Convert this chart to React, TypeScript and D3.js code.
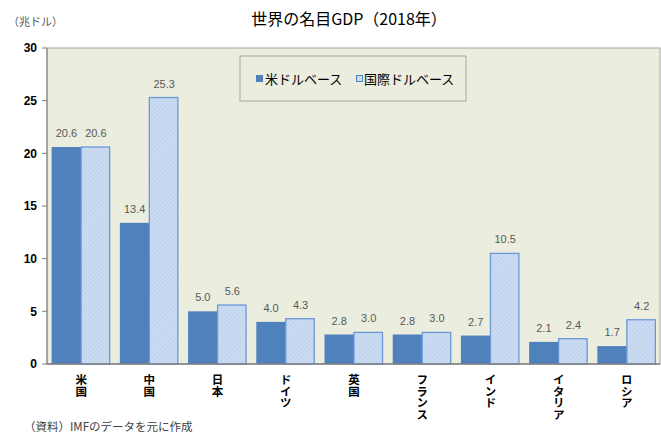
import React from "react";
import * as d3 from "d3";

const categories = ["米国", "中国", "日本", "ドイツ", "英国", "フランス", "インド", "イタリア", "ロシア"];
const usdValues = [20.6, 13.4, 5.0, 4.0, 2.8, 2.8, 2.7, 2.1, 1.7];
const pppValues = [20.6, 25.3, 5.6, 4.3, 3.0, 3.0, 10.5, 2.4, 4.2];
const seriesNames = ["米ドルベース", "国際ドルベース"];
const yTicks = [0, 5, 10, 15, 20, 25, 30];

const W = 661, H = 434;
const left = 47, right = 660, top = 48, bottom = 364;
const JP = "'Noto Sans CJK JP', 'Noto Sans', sans-serif";
const NUM = "'Liberation Sans', Arial, sans-serif";

export default function App() {
  const x = d3.scaleBand<string>().domain(categories).range([left, right + 1]).paddingInner(0.135).paddingOuter(0.068);
  const y = d3.scaleLinear().domain([0, 30]).range([bottom, top]);
  const bw = x.bandwidth() / 2;
  const dark = "#4F81BD";
  return (
    <svg width={W} height={H} style={{ position: "absolute", left: 0, top: 0, background: "#fff" }}>
      <defs>
        <pattern id="hatch" width="3" height="3" patternUnits="userSpaceOnUse" patternTransform="rotate(45)">
          <rect width="3" height="3" fill="#CCDCF2" />
          <line x1="0" y1="0" x2="0" y2="3" stroke="#AFC6E6" strokeWidth="1" />
        </pattern>
      </defs>
      <rect x={left} y={top} width={right - left} height={bottom - top} fill="#EBEDDE" stroke="#A6A6A6" strokeWidth={1} />
      {yTicks.map((t) => (
        <g key={t}>
          <line x1={left - 5} x2={left} y1={y(t)} y2={y(t)} stroke="#7F7F7F" />
          <text x={37} y={y(t)} dy="0.35em" textAnchor="end" fontFamily={NUM} fontSize={12} fontWeight="bold" fill="#000">{t}</text>
        </g>
      ))}
      <line x1={left} x2={left} y1={top} y2={bottom} stroke="#7F7F7F" />
      {categories.map((c, i) => {
        const x0 = x(c)!;
        return (
          <g key={c}>
            <rect x={x0} y={y(usdValues[i])} width={bw} height={bottom - y(usdValues[i])} fill={dark} />
            <rect x={x0 + bw} y={y(pppValues[i])} width={bw - 1} height={bottom - y(pppValues[i])} fill="url(#hatch)" stroke="#6A98D6" strokeWidth={1.3} />
            <text x={x0 + bw / 2} y={y(usdValues[i]) - 10} textAnchor="middle" fontFamily={NUM} fontSize={11} fill="#595959">{usdValues[i].toFixed(1)}</text>
            <text x={x0 + bw * 1.5} y={y(pppValues[i]) - 10} textAnchor="middle" fontFamily={NUM} fontSize={11} fill="#595959">{pppValues[i].toFixed(1)}</text>
            <text x={x0 + bw} y={374} fontFamily={JP} fontSize={11.5} fontWeight="bold" fill="#000"
              style={{ writingMode: "vertical-rl", textOrientation: "upright" }}>{c}</text>
          </g>
        );
      })}
      <line x1={left} x2={right} y1={bottom} y2={bottom} stroke="#7F7F7F" strokeWidth={1.5} />
      <rect x={240} y={56} width={226} height={45} fill="#EBEDDE" stroke="#A6A6A6" />
      <rect x={256} y={75} width={7} height={7} fill={dark} />
      <text x={265} y={79} dy="0.35em" fontFamily={JP} fontSize={13} fill="#000">{seriesNames[0]}</text>
      <rect x={356.5} y={75.5} width={6} height={6} fill="#CCDCF2" stroke="#4F81BD" />
      <text x={364} y={79} dy="0.35em" fontFamily={JP} fontSize={13} fill="#000">{seriesNames[1]}</text>
      <text x={349} y={19} dy="0.35em" textAnchor="middle" fontFamily={JP} fontSize={16} fill="#000">世界の名目GDP（2018年）</text>
      <text x={8} y={22} dy="0.35em" fontFamily={JP} fontSize={11} fill="#595959">（兆ドル）</text>
      <text x={24} y={427} dy="0.35em" fontFamily={JP} fontSize={11.5} fill="#404040">（資料）IMFのデータを元に作成</text>
    </svg>
  );
}
